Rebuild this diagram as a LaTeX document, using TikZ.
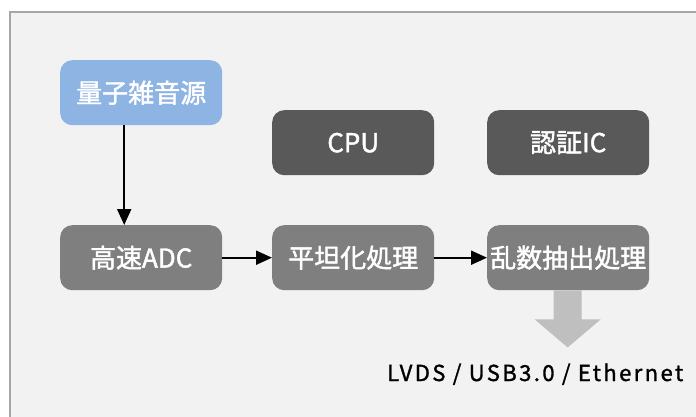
\documentclass[tikz,border=0pt]{standalone}
\usepackage{fontspec}
\setmainfont{Noto Sans CJK JP}
\newfontfamily\boxfont[FakeBold=1.6]{Noto Sans CJK JP}
\newfontfamily\ifacefont[LetterSpace=11,FakeBold=1.4]{Noto Sans CJK JP}
\usetikzlibrary{arrows.meta,calc}
\definecolor{bgc}{HTML}{F2F2F2}
\definecolor{framec}{HTML}{A6A6A6}
\definecolor{bluec}{HTML}{8EB4E3}
\definecolor{darkc}{HTML}{595959}
\definecolor{midc}{HTML}{7F7F7F}
\definecolor{arrc}{HTML}{BFBFBF}
\tikzset{
  box/.style={rounded corners=12pt, minimum width=162pt, minimum height=65pt, inner sep=0pt, text=white, font=\boxfont\fontsize{26}{28}\selectfont, anchor=north west},
  bluebox/.style={box, fill=bluec},
  darkbox/.style={box, fill=darkc},
  midbox/.style={box, fill=midc},
  conn/.style={-{Triangle[length=16pt,width=14pt]}, line width=2pt, black}
}
\begin{document}
\begin{tikzpicture}[x=1pt,y=-1pt]
\useasboundingbox (0,0) rectangle (696,417);
\fill[white] (0,0) rectangle (696,417);
\draw[fill=bgc, draw=framec, line width=1.2pt] (10,12) rectangle (710,430);
\node[bluebox] (src) at (60,60) {量子雑音源};
\node[darkbox] (cpu) at (272,110) {CPU};
\node[darkbox] (auth) at (487,110) {認証IC};
\node[midbox] (adc) at (60,225) {高速ADC};
\node[midbox] (flat) at (272,225) {平坦化処理};
\node[midbox] (rng) at (487,225) {乱数抽出処理};
\coordinate (srcout) at ($(src.south)+(-17,0)$);
\coordinate (adcin) at ($(adc.north)+(-17,0)$);
\draw[conn] (srcout) -- (adcin);
\draw[conn] (adc.east) -- (flat.west);
\draw[conn] (flat.east) -- (rng.west);
\coordinate (gtop) at ($(rng.south)+(-0.5,0)$);
\fill[arrc] ($(gtop)+(-14,0)$) -- ($(gtop)+(14,0)$) -- ($(gtop)+(14,29)$) -- ($(gtop)+(33,29)$) -- ($(gtop)+(0,57)$) -- ($(gtop)+(-33,29)$) -- ($(gtop)+(-14,29)$) -- cycle;
\node[anchor=base west, inner sep=0pt, font=\ifacefont\fontsize{22}{24}\selectfont, text=black] (iface) at (387,381) {LVDS / USB3.0 / Ethernet};
\end{tikzpicture}
\end{document}
